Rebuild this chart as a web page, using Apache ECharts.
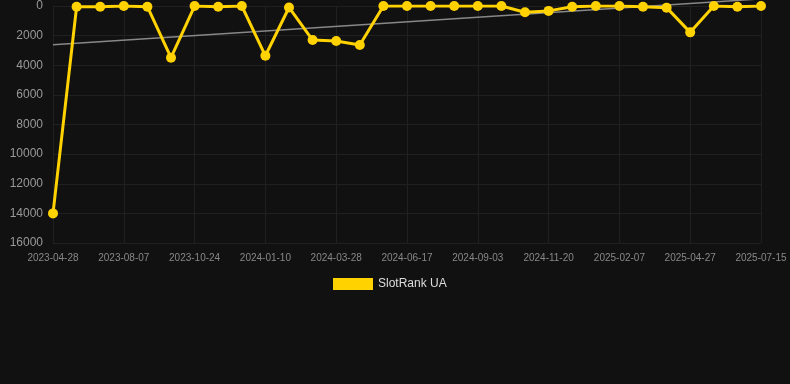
<!DOCTYPE html>
<html>
<head>
<meta charset="utf-8">
<script src="https://cdn.jsdelivr.net/npm/echarts@6/dist/echarts.min.js"></script>
<style>
  html, body { margin: 0; padding: 0; background: #111111; }
  #chart { width: 790px; height: 384px; }
</style>
</head>
<body>
<div id="chart"></div>
<script>
(function () {
    var myChart = echarts.init(document.getElementById('chart'));

    let dates = ['2023-04-28', '2023-05-31', '2023-07-04', '2023-08-07', '2023-09-02', '2023-09-28',
        '2023-10-24', '2023-11-19', '2023-12-15', '2024-01-10', '2024-02-05', '2024-03-02',
        '2024-03-28', '2024-04-24', '2024-05-21', '2024-06-17', '2024-07-13', '2024-08-08',
        '2024-09-03', '2024-09-29', '2024-10-25', '2024-11-20', '2024-12-16', '2025-01-12',
        '2025-02-07', '2025-03-05', '2025-04-01', '2025-04-27', '2025-05-23', '2025-06-19',
        '2025-07-15'];

    let rank = [14000, 50, 50, 1, 50, 3490, 1, 50, 1, 3360, 100, 2300, 2360, 2630, 1,
        1, 1, 1, 1, 1, 420, 330, 50, 1, 1, 50, 110, 1780, 1, 50, 1];

    // trend line end points
    let trendStart = 2615;
    let trendEnd = -480;

    var option = {
        backgroundColor: '#111111',
        animation: false,
        grid: {
            left: 53,
            right: 29,
            top: 6,
            bottom: 141
        },
        legend: {
            data: ['SlotRank UA'],
            top: 273,
            left: 328,
            icon: 'rect',
            itemWidth: 40,
            itemHeight: 12,
            itemGap: 6,
            textStyle: {
                color: '#dddddd',
                fontSize: 12,
                fontFamily: 'Liberation Sans, Arial, sans-serif'
            }
        },
        xAxis: {
            type: 'category',
            data: dates,
            boundaryGap: false,
            axisLine: { show: false },
            axisTick: { show: false },
            axisLabel: {
                interval: 2,
                color: '#888888',
                fontSize: 10,
                margin: 10,
                fontFamily: 'Liberation Sans, Arial, sans-serif'
            },
            splitLine: {
                show: true,
                interval: 2,
                lineStyle: { color: '#202020', width: 1 }
            }
        },
        yAxis: {
            type: 'value',
            inverse: true,
            min: 0,
            max: 16000,
            interval: 2000,
            axisLine: { show: false },
            axisTick: { show: false },
            axisLabel: {
                color: '#999999',
                fontSize: 12,
                margin: 10,
                fontFamily: 'Liberation Sans, Arial, sans-serif',
                formatter: function (v) { return String(v); }
            },
            splitLine: {
                lineStyle: { color: '#202020', width: 1 }
            }
        },
        series: [
            {
                name: 'SlotRank UA',
                type: 'line',
                data: rank,
                symbol: 'circle',
                symbolSize: 10,
                z: 3,
                lineStyle: { color: '#ffd200', width: 3 },
                itemStyle: { color: '#ffd200' }
            },
            {
                name: 'trend',
                type: 'line',
                data: [[dates[0], trendStart], [dates[dates.length - 1], trendEnd]],
                symbol: 'none',
                clip: false,
                z: 2,
                lineStyle: { color: '#888888', width: 1.5 },
                itemStyle: { color: '#888888' }
            }
        ]
    };

    myChart.setOption(option);
    window.addEventListener('resize', function () {
        myChart.resize();
    });
})();
</script>
</body>
</html>
